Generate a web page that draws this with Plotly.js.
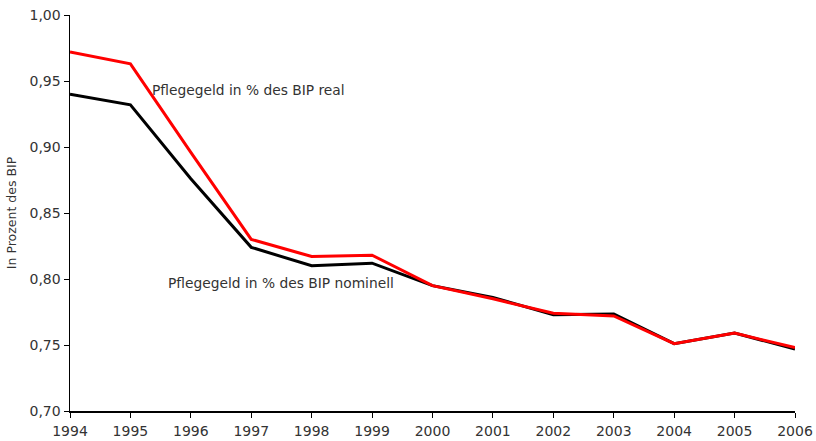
<!DOCTYPE html>
<html>
<head>
<meta charset="utf-8">
<script src="https://cdn.plot.ly/plotly-3.0.1.min.js"></script>
<style>html,body{margin:0;padding:0;background:#fff}#chart{width:816px;height:441px}</style>
</head>
<body>
<div id="chart"></div>
<script>
const years = [1994,1995,1996,1997,1998,1999,2000,2001,2002,2003,2004,2005,2006];
const nominell = [0.940,0.932,0.876,0.824,0.810,0.812,0.795,0.786,0.773,0.7735,0.751,0.759,0.747];
const real = [0.972,0.963,0.896,0.830,0.817,0.818,0.795,0.785,0.774,0.772,0.751,0.759,0.748];
const yTicks = [0.70,0.75,0.80,0.85,0.90,0.95,1.00];
const yTickText = ["0,70","0,75","0,80","0,85","0,90","0,95","1,00"];
const labelReal = "Pflegegeld in % des BIP real";
const labelNom = "Pflegegeld in % des BIP nominell";
const yTitle = "In Prozent des BIP";

const font = "DejaVu Sans, sans-serif";
const data = [
  {x: years, y: nominell, type: 'scatter', mode: 'lines', line: {color: '#000000', width: 3}, name: labelNom},
  {x: years, y: real, type: 'scatter', mode: 'lines', line: {color: '#ff0000', width: 3}, name: labelReal}
];
const layout = {
  width: 816, height: 441,
  margin: {l: 70, r: 21, t: 15, b: 30},
  paper_bgcolor: '#fff', plot_bgcolor: '#fff',
  showlegend: false,
  font: {family: font, size: 14, color: '#333'},
  xaxis: {
    range: [1994, 2006], tickvals: years, ticktext: years.map(String),
    showline: true, linecolor: '#000', linewidth: 1.5,
    ticks: 'outside', ticklen: 5, tickcolor: '#000', tickwidth: 1,
    showgrid: false, zeroline: false, ticklabelstandoff: 2,
    tickfont: {family: font, size: 14, color: '#333'}
  },
  yaxis: {
    range: [0.70, 1.00], tickvals: yTicks, ticktext: yTickText,
    showline: true, linecolor: '#000', linewidth: 1.5,
    ticks: 'outside', ticklen: 5, tickcolor: '#000', tickwidth: 1,
    showgrid: false, zeroline: false,
    tickfont: {family: font, size: 14, color: '#333'},
    title: {text: yTitle, font: {family: font, size: 12.5, color: '#333'}, standoff: 10}
  },
  annotations: [
    {xref: 'paper', yref: 'paper', x: (150-70)/725, y: (411-90)/396, xanchor: 'left', yanchor: 'middle',
     text: labelReal, showarrow: false, font: {family: font, size: 13.8, color: '#333'}},
    {xref: 'paper', yref: 'paper', x: (166-70)/725, y: (411-283)/396, xanchor: 'left', yanchor: 'middle',
     text: labelNom, showarrow: false, font: {family: font, size: 13.8, color: '#333'}}
  ]
};
Plotly.newPlot('chart', data, layout, {displayModeBar: false, staticPlot: true});
</script>
</body>
</html>
